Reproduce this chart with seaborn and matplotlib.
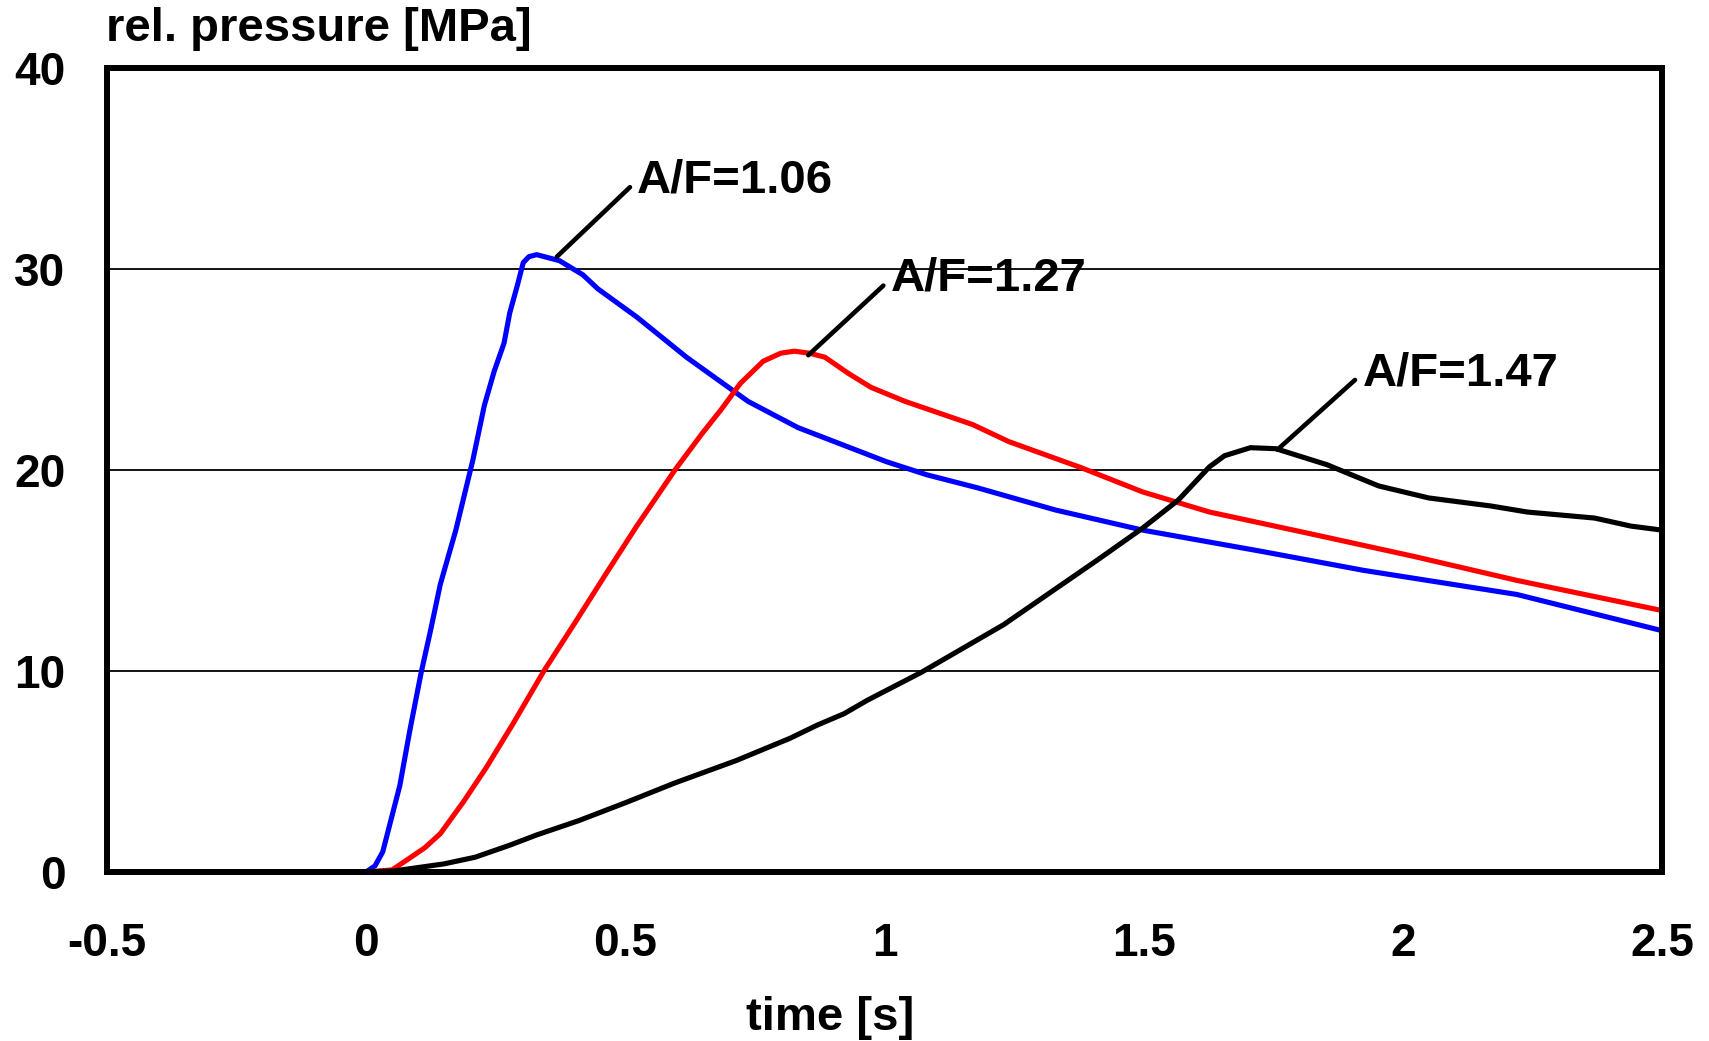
import matplotlib
matplotlib.use("Agg")
import matplotlib.pyplot as plt
import seaborn as sns
import pandas as pd

# Pressure traces (time in s, relative pressure in MPa)
t_106 = [-0.5, -0.4, -0.3, -0.1, -0.03, 0.0, 0.017, 0.032, 0.047, 0.065, 0.084, 0.106, 0.125,
         0.143, 0.173, 0.206, 0.228, 0.247, 0.266, 0.277, 0.292, 0.303, 0.314, 0.329, 0.373,
         0.418, 0.447, 0.522, 0.618, 0.737, 0.833, 1.004, 1.082, 1.18, 1.33, 1.498, 1.726,
         1.924, 2.22, 2.5]
p_106 = [0.0, -0.15, -0.15, -0.15, -0.15, 0.0, 0.3, 1.0, 2.5, 4.3, 7.0, 9.9, 12.1,
         14.3, 17.0, 20.5, 23.2, 24.9, 26.3, 27.8, 29.2, 30.3, 30.6, 30.7, 30.4,
         29.7, 29.0, 27.6, 25.6, 23.4, 22.1, 20.4, 19.75, 19.1, 18.0, 17.0, 15.95,
         15.0, 13.8, 12.0]

t_127 = [-0.5, 0.0, 0.05, 0.076, 0.113, 0.143, 0.188, 0.232, 0.284, 0.343, 0.403, 0.462,
         0.522, 0.596, 0.648, 0.685, 0.722, 0.766, 0.8, 0.826, 0.855, 0.885, 0.93, 0.974,
         1.04, 1.17, 1.24, 1.38, 1.498, 1.627, 1.825, 2.02, 2.22, 2.5]
p_127 = [0.0, 0.0, 0.1, 0.55, 1.2, 1.9, 3.5, 5.2, 7.4, 10.0, 12.4, 14.8,
         17.2, 20.0, 21.8, 23.0, 24.3, 25.4, 25.8, 25.9, 25.8, 25.6, 24.8, 24.1,
         23.4, 22.25, 21.4, 20.1, 18.9, 17.9, 16.8, 15.7, 14.5, 13.0]

t_147 = [-0.5, 0.0, 0.054, 0.15, 0.21, 0.277, 0.329, 0.41, 0.5, 0.596, 0.714, 0.818, 0.87,
         0.922, 0.967, 1.0, 1.072, 1.23, 1.41, 1.498, 1.567, 1.627, 1.656, 1.706, 1.755,
         1.854, 1.953, 2.05, 2.17, 2.24, 2.37, 2.44, 2.5]
p_147 = [0.0, 0.0, 0.05, 0.4, 0.73, 1.33, 1.84, 2.55, 3.44, 4.43, 5.54, 6.65, 7.3,
         7.87, 8.54, 8.98, 9.94, 12.3, 15.5, 17.1, 18.5, 20.15, 20.7, 21.1, 21.05,
         20.25, 19.2, 18.6, 18.2, 17.9, 17.6, 17.2, 17.0]

series_names = ["A/F=1.06", "A/F=1.27", "A/F=1.47"]
series_colors = ["#0000FF", "#FF0000", "#000000"]

# Label placement: point on the curve and text anchor
label_xy = [(0.368, 30.6), (0.853, 25.7), (1.758, 21.0)]
label_text_xy = [(0.523, 34.4), (1.012, 29.5), (1.922, 24.8)]

x_ticks = [-0.5, 0, 0.5, 1, 1.5, 2, 2.5]
x_tick_labels = ["-0.5", "0", "0.5", "1", "1.5", "2", "2.5"]
y_ticks = [0, 10, 20, 30, 40]

frames = []
for name, t, p in zip(series_names, [t_106, t_127, t_147], [p_106, p_127, p_147]):
    frames.append(pd.DataFrame({"time": t, "pressure": p, "series": name}))
df = pd.concat(frames, ignore_index=True)

sns.set_theme(style="white")
plt.rcParams["font.family"] = ["Liberation Sans", "DejaVu Sans"]
plt.rcParams["font.weight"] = "bold"

fig = plt.figure(figsize=(17.09, 10.41), dpi=100)
ax = fig.add_axes([0.0626, 0.1624, 0.9099, 0.7726])

sns.lineplot(data=df, x="time", y="pressure", hue="series",
             palette=dict(zip(series_names, series_colors)),
             hue_order=series_names, legend=False, ax=ax,
             sort=False, estimator=None)
# thicker traces
for line in ax.get_lines():
    line.set_linewidth(3.7)
    line.set_solid_joinstyle("round")
    line.set_solid_capstyle("butt")

ax.set_xlim(-0.5, 2.5)
ax.set_ylim(0, 40)
ax.set_xticks(x_ticks)
ax.set_xticklabels(x_tick_labels)
ax.set_yticks(y_ticks)
ax.yaxis.grid(True, color="black", linewidth=1.3)
ax.xaxis.grid(False)
ax.set_axisbelow(True)

for s in ax.spines.values():
    s.set_visible(True)
    s.set_color("black")
    s.set_linewidth(4.3)

ax.tick_params(axis="both", which="major", direction="in", length=10, width=1.3,
               color="black", labelsize=33, labelcolor="black")
ax.tick_params(axis="x", pad=36)
ax.tick_params(axis="y", pad=30, length=10)
for lab in ax.get_xticklabels() + ax.get_yticklabels():
    lab.set_fontweight("bold")

ax.set_xlabel("")
ax.set_ylabel("")

for name, xy, txy in zip(series_names, label_xy, label_text_xy):
    ax.annotate(name, xy=xy, xytext=txy, fontsize=34, fontweight="bold",
                ha="left", va="center", color="black",
                arrowprops=dict(arrowstyle="-", color="black", lw=3.3,
                                shrinkA=4, shrinkB=0, relpos=(0, 0.5)))

fig.text(106 / 1709, 1 - 41 / 1041, "rel. pressure [MPa]", fontsize=34,
         fontweight="bold", ha="left", va="baseline", color="black")
fig.text(830 / 1709, 1 - 1030 / 1041, "time [s]", fontsize=34,
         fontweight="bold", ha="center", va="baseline", color="black")

fig.savefig("out.png", dpi=100, facecolor="white")
